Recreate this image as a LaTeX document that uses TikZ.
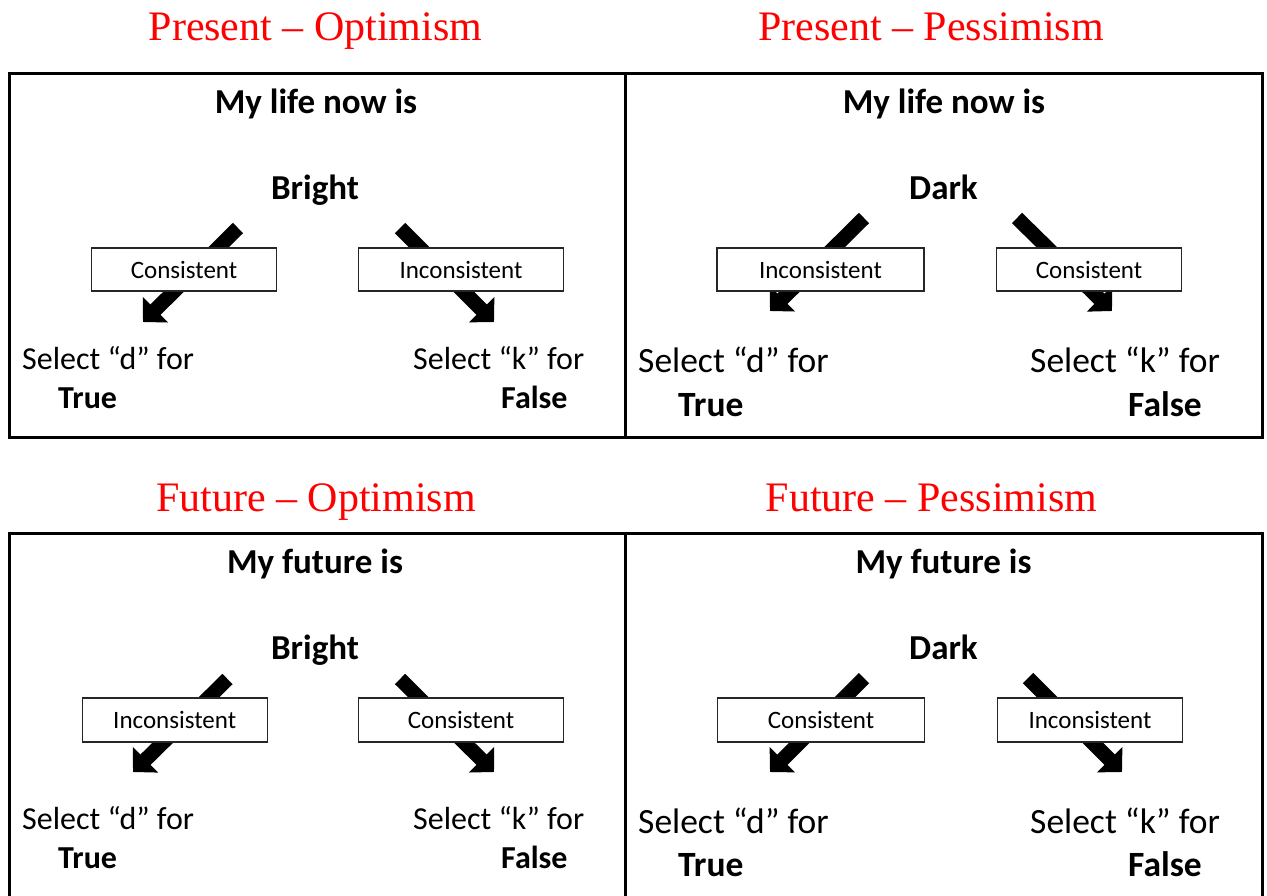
\documentclass[tikz,border=0pt]{standalone}
\usepackage{fontspec}
\setmainfont{Carlito}
\newfontfamily\tnrfont{Liberation Serif}
\usetikzlibrary{arrows.meta}
\begin{document}
\begin{tikzpicture}[x=1pt,y=-1pt,
  ttl/.style={font=\tnrfont\fontsize{42}{50}\selectfont, text=red, anchor=base, inner sep=0pt},
  hdr/.style={font=\bfseries\fontsize{35}{42}\selectfont, anchor=base, inner sep=0pt},
  selA/.style={font=\fontsize{32}{38}\selectfont, anchor=base west, inner sep=0pt},
  selAb/.style={font=\bfseries\fontsize{32}{38}\selectfont, anchor=base west, inner sep=0pt},
  selB/.style={font=\fontsize{35.5}{42}\selectfont, anchor=base west, inner sep=0pt},
  selBb/.style={font=\bfseries\fontsize{35.5}{42}\selectfont, anchor=base west, inner sep=0pt},
  bx/.style={draw=black!85, line width=1.2pt, fill=white, font=\fontsize{25}{30}\selectfont, minimum height=43pt, inner sep=0pt},
  blk/.style={line width=14.5pt, -{Triangle[length=17.5pt,width=35pt]}},
  panel/.style={line width=3pt}
]
\useasboundingbox (0,0) rectangle (1267,895);
\clip (0,0) rectangle (1267,895);
\fill[white] (0,0) rectangle (1267,895);

% titles
\node[ttl] (t1) at (315.5,40) {Present – Optimism};
\node[ttl] (t2) at (931,40) {Present – Pessimism};
\node[ttl] (t3) at (316,511) {Future – Optimism};
\node[ttl] (t4) at (931.5,511) {Future – Pessimism};

% panels
\draw[panel] (9,73) rectangle (1262,437);
\draw[panel] (625,73) -- (625,437);
\draw[panel] (9,533) rectangle (1262,910);
\draw[panel] (625,533) -- (625,910);

% arrow end points
\coordinate (a1s) at (238,228);  \coordinate (a1e) at (143,322);
\coordinate (a2s) at (400,228);  \coordinate (a2e) at (494,322);
\coordinate (a3s) at (864,218);  \coordinate (a3e) at (770,311);
\coordinate (a4s) at (1017,218); \coordinate (a4e) at (1112,311);
\coordinate (a5s) at (227.5,679);\coordinate (a5e) at (133,772);
\coordinate (a6s) at (400,679);  \coordinate (a6e) at (494,772);
\coordinate (a7s) at (864,678);  \coordinate (a7e) at (770,772);
\coordinate (a8s) at (1028,678); \coordinate (a8e) at (1122,772);
\foreach \i in {1,...,8} { \draw[blk] (a\i s) -- (a\i e); }

% boxes
\node[bx, minimum width=185pt] (b1) at (184,269.5) {Consistent};
\node[bx, minimum width=205pt] (b2) at (461,269.5) {Inconsistent};
\node[bx, minimum width=207pt] (b3) at (820.5,269.5) {Inconsistent};
\node[bx, minimum width=185pt] (b4) at (1089,269.5) {Consistent};
\node[bx, minimum width=185pt, minimum height=44pt] (b5) at (174.7,720) {Inconsistent};
\node[bx, minimum width=205pt, minimum height=44pt] (b6) at (461,720) {Consistent};
\node[bx, minimum width=207pt, minimum height=44pt] (b7) at (821,720) {Consistent};
\node[bx, minimum width=185pt, minimum height=44pt] (b8) at (1090,720) {Inconsistent};

% headings
\node[hdr] (h1) at (316,113) {My life now is};
\node[hdr] (w1) at (315,199) {Bright};
\node[hdr] (h2) at (944,113) {My life now is};
\node[hdr] (w2) at (943.5,199) {Dark};
\node[hdr] (h3) at (315,573) {My future is};
\node[hdr] (w3) at (315,659) {Bright};
\node[hdr] (h4) at (943.5,573) {My future is};
\node[hdr] (w4) at (943.5,659) {Dark};

% select texts
\node[selA]  (s1) at (22,369) {Select “d” for};
\node[selAb] (r1) at (58,408) {True};
\node[selA]  (s2) at (413,369) {Select “k” for};
\node[selAb] (r2) at (501,408) {False};

\node[selB]  (s3) at (638,372) {Select “d” for};
\node[selBb] (r3) at (678,416) {True};
\node[selB]  (s4) at (1030,372) {Select “k” for};
\node[selBb] (r4) at (1128,416) {False};

\node[selA]  (s5) at (22,829) {Select “d” for};
\node[selAb] (r5) at (58,868) {True};
\node[selA]  (s6) at (413,829) {Select “k” for};
\node[selAb] (r6) at (501,868) {False};

\node[selB]  (s7) at (638,833) {Select “d” for};
\node[selBb] (r7) at (678,876) {True};
\node[selB]  (s8) at (1030,833) {Select “k” for};
\node[selBb] (r8) at (1128,876) {False};
\end{tikzpicture}
\end{document}
